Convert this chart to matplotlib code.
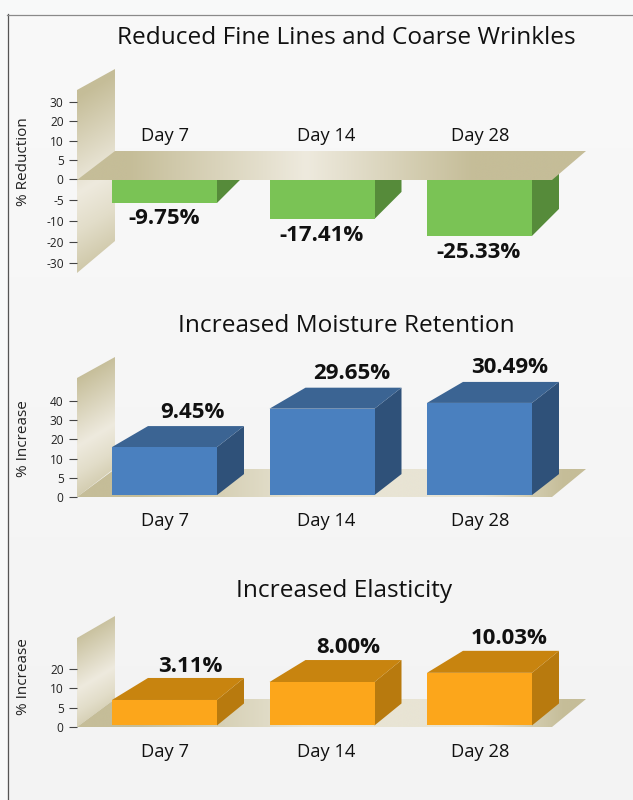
#!/usr/bin/env python3
import numpy as np
import matplotlib
matplotlib.use('Agg')
import matplotlib.pyplot as plt
from matplotlib.patches import Polygon
from matplotlib.transforms import Affine2D

W, H = 633, 800
plt.rcParams['font.family'] = ['Open Sans', 'DejaVu Sans']

days = ['Day 7', 'Day 14', 'Day 28']

# valores leidos del eje dibujado (la escala del original no es lineal)
ticks_1 = [-30, -20, -10, -5, 0, 5, 10, 20, 30]
bars_1 = [-5.7, -9.5, -17.1]
labels_1 = ['-9.75%', '-17.41%', '-25.33%']

ticks_2 = [0, 5, 10, 20, 30, 40]
bars_2 = [16.0, 36.0, 39.0]
labels_2 = ['9.45%', '29.65%', '30.49%']

ticks_3 = [0, 5, 10, 20]
bars_3 = [7.0, 13.2, 18.0]
labels_3 = ['3.11%', '8.00%', '10.03%']

TAN = (197, 189, 152)
LIGHT = (238, 234, 222)
MID = (232, 228, 212)

fig = plt.figure(figsize=(W / 100, H / 100), dpi=100, facecolor='#f8f9f9')
# pixeles de la imagen (y hacia abajo) -> display
px = Affine2D().scale(1, -1).translate(0, H)


def gradient(ax, pts, stops, direction, zorder):
    pts = np.array(pts, dtype=float)
    x0, y0 = pts.min(axis=0)
    x1, y1 = pts.max(axis=0)
    xx, yy = np.meshgrid(np.linspace(x0, x1, 200), np.linspace(y0, y1, 200))
    t = xx * direction[0] + yy * direction[1]
    t = (t - t.min()) / (t.max() - t.min())
    pos = [s[0] for s in stops]
    img = np.dstack([np.interp(t, pos, [s[1][c] for s in stops]) for c in range(3)]) / 255
    im = ax.imshow(img, extent=(x0, x1, y1, y0), origin='upper', transform=px,
                   aspect='auto', zorder=zorder, interpolation='bilinear')
    im.set_clip_path(Polygon(pts, closed=True, transform=px))
    im.set_clip_box(fig.bbox)


def poly(ax, pts, color, zorder):
    ax.add_patch(Polygon(pts, closed=True, transform=px, facecolor=color,
                         edgecolor='none', zorder=zorder, clip_on=False))


def panel(title, title_xy, ylabel, ylabel_y, ticks, tick_px, bars, base, labels, label_off,
          day_off, wall, floor, floor_stops, colors, depth, hanging=False):
    top_px, bot_px = wall['axis']
    ax = fig.add_axes([77 / W, 1 - bot_px / H, (552 - 77) / W, (bot_px - top_px) / H])
    ax.set_autoscale_on(False)
    ax.patch.set_visible(False)
    for s in ax.spines.values():
        s.set_visible(False)

    fwd = lambda v: np.interp(v, ticks, tick_px)
    inv = lambda v: np.interp(v, tick_px, ticks)
    ax.set_yscale('function', functions=(fwd, inv))
    ax.set_ylim(ticks[0], ticks[-1])
    ax.set_xlim((77 - 164.5) / 157.5, (552 - 164.5) / 157.5)
    ax.set_yticks(ticks)
    ax.set_yticklabels([str(t) for t in ticks])
    ax.minorticks_off()
    ax.set_xticks([])
    ax.tick_params(axis='y', length=6.1, width=0.8, color='#444444', pad=3.5,
                   labelsize=8.6, labelcolor='#222222')

    gradient(ax, wall['pts'], [(0, TAN), (0.12, TAN), (0.55, LIGHT), (0.72, (226, 221, 201)), (1, TAN)],
             (0.6, 1), 1)
    gradient(ax, floor, floor_stops, (1, 0), 3 if hanging else 2)

    dx_l, dx_r, dy = depth
    rects = ax.bar(range(len(bars)), np.array(bars) - base, bottom=base, width=105 / 157.5,
                   color=colors[0], zorder=2.6)
    for rect in rects:
        (xl, y_a), (xr, y_b) = px.inverted().transform(ax.transData.transform(
            [(rect.get_x(), rect.get_y()), (rect.get_x() + rect.get_width(), rect.get_y() + rect.get_height())]))
        ytop, ybot = min(y_a, y_b), max(y_a, y_b)
        poly(ax, [(xr, ytop), (xr + dx_r, ytop - dy), (xr + dx_r, ybot - dy), (xr, ybot)], colors[2], 2.5)
        if not hanging:
            poly(ax, [(xl, ytop), (xl + dx_l, ytop - dy), (xr + dx_r, ytop - dy), (xr, ytop)], colors[1], 2.5)

    for i, (b, lab, off) in enumerate(zip(bars, labels, label_off)):
        ax.annotate(lab, xy=(i, b), xytext=(off[0] * 0.72, off[1] * 0.72), textcoords='offset points',
                    ha='center', va='center', fontsize=16, fontweight='bold', color='#111111',
                    annotation_clip=False, zorder=5)
    for i, d in enumerate(days):
        ax.annotate(d, xy=(i, 0), xytext=([0.5, 4.5, 0.5][i] * 0.72, day_off * 0.72), textcoords='offset points',
                    ha='center', va='center', fontsize=13.2, color='#111111',
                    annotation_clip=False, zorder=5)

    fig.text(title_xy[0] / W, 1 - title_xy[1] / H, title, ha='center', va='center',
             fontsize=17.6, color='#111111')
    fig.text(23.5 / W, 1 - ylabel_y / H, ylabel, rotation=90, ha='center', va='center',
             fontsize=11, color='#222222')
    return ax


# fondo y marco
bg = fig.add_axes([0, 0, 1, 1], zorder=-1)
bg.set_xlim(0, W)
bg.set_ylim(H, 0)
bg.axis('off')
bg.imshow(np.linspace(249, 243, 200).reshape(-1, 1).repeat(3, axis=1).reshape(-1, 1, 3) / 255,
          extent=(7, W, H, 14), aspect='auto', zorder=0)
bg.set_xlim(0, W)
bg.set_ylim(H, 0)
bg.plot([7.5, 7.5], [14, H], color='#555555', lw=0.9, zorder=1)
bg.plot([7, W], [14.5, 14.5], color='#8a8a8a', lw=0.9, zorder=1)

floor_mid = [(0, TAN), (0.12, TAN), (0.45, MID), (0.8, MID), (0.96, TAN), (1, TAN)]

panel('Reduced Fine Lines and Coarse Wrinkles', (346, 38), '% Reduction', 162,
      ticks_1, [-84, -63, -42, -21, 0, 19.25, 38.5, 57.75, 77],
      bars_1, 0, labels_1, [(0, -16), (0, -16.5), (-1, -17)], 43,
      {'axis': (102, 263), 'pts': [(77, 90), (115, 69), (115, 241), (77, 273)]},
      [(77, 180), (115, 151), (586, 151), (552, 180)],
      [(0, TAN), (0.1, TAN), (0.45, LIGHT), (0.78, TAN), (1, TAN)],
      ('#7ac355', '#7ac355', '#568b3a'), (27, 27, 27), hanging=True)

panel('Increased Moisture Retention', (346, 326), '% Increase', 439,
      ticks_2, [0, 19.2, 38.4, 57.6, 76.8, 96],
      bars_2, 0.5, labels_2, [(28, 35), (30, 35), (30, 35)], -24,
      {'axis': (401, 497), 'pts': [(77, 378), (115, 357), (115, 468), (77, 497)]},
      [(77, 497), (115, 469), (586, 469), (552, 497)], floor_mid,
      ('#4a80bf', '#3b6493', '#2f5179'), (36, 27, 21))

panel('Increased Elasticity', (344, 591), '% Increase', 677,
      ticks_3, [0, 19, 38.5, 57.5],
      bars_3, 0.4, labels_3, [(26, 33), (26, 35), (30, 34)], -25,
      {'axis': (669, 727), 'pts': [(77, 638), (115, 616), (115, 699), (77, 727)]},
      [(77, 727), (115, 699), (586, 699), (552, 727)], floor_mid,
      ('#fca61b', '#c8840f', '#b87a0e'), (36, 27, 22))

fig.savefig('out.png', dpi=100, facecolor=fig.get_facecolor())
